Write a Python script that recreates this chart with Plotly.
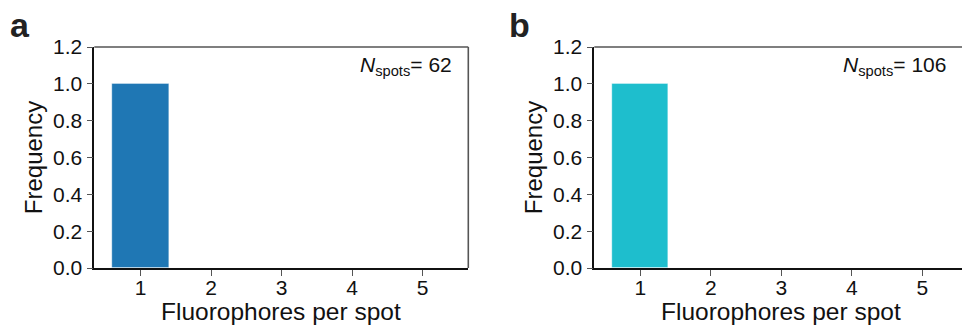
import plotly.graph_objects as go

# ---- data ----
categories = [1, 2, 3, 4, 5]
freq_a = [1.0, 0.0, 0.0, 0.0, 0.0]
freq_b = [1.0, 0.0, 0.0, 0.0, 0.0]
n_spots_a = 62
n_spots_b = 106
y_ticks = [0.0, 0.2, 0.4, 0.6, 0.8, 1.0, 1.2]
x_title = "Fluorophores per spot"
y_title = "Frequency"
panel_labels = ["a", "b"]

W, H = 962, 325
FONT = "Liberation Sans, Arial, sans-serif"

fig = go.Figure()
fig.add_trace(go.Bar(x=categories, y=freq_a, width=0.8, marker=dict(color="#1f77b4", line=dict(color="rgba(255,255,255,0.35)", width=1)),
                     xaxis="x", yaxis="y", showlegend=False))
fig.add_trace(go.Bar(x=categories, y=freq_b, width=0.8, marker=dict(color="#1ebecd", line=dict(color="rgba(255,255,255,0.35)", width=1)),
                     xaxis="x2", yaxis="y2", showlegend=False))

ydom = [57 / H, 278 / H]
xa_dom = [94.3 / W, 468.3 / W]
xb_dom = [594.3 / W, 1.0]

common_x = dict(
    tickmode="array", tickvals=categories, ticktext=[str(c) for c in categories],
    ticks="outside", ticklen=6, tickwidth=1.3, tickcolor="#555", automargin=False,
    ticklabelstandoff=-6,
    showline=True, linecolor="#111", linewidth=1.6, showgrid=False, zeroline=False,
    tickfont=dict(family=FONT, size=21, color="#111"),
)
common_y = dict(
    range=[0, 1.2], tickmode="array", tickvals=y_ticks, ticktext=[f"{v:.1f}" for v in y_ticks],
    ticks="outside", ticklen=6, tickwidth=1.3, tickcolor="#555", automargin=False,
    showline=True, linecolor="#111", linewidth=1.6, showgrid=False, zeroline=False,
    tickfont=dict(family=FONT, size=21, color="#111"),
    title=dict(text=y_title, font=dict(family=FONT, size=24, color="#111"), standoff=4),
)

fig.update_layout(
    template="none",
    width=W, height=H, margin=dict(l=0, r=0, t=0, b=0, autoexpand=False),
    paper_bgcolor="white", plot_bgcolor="white", bargap=0,
    xaxis=dict(domain=xa_dom, range=[0.342, 5.647], anchor="y", **common_x),
    yaxis=dict(domain=ydom, anchor="x", **common_y),
    xaxis2=dict(domain=xb_dom, range=[0.3475, 5.563], anchor="y2", **common_x),
    yaxis2=dict(domain=ydom, anchor="x2", **common_y),
)

# top/right spines (gray)
spine = dict(color="#555", width=1.6)
fig.add_shape(type="line", xref="x domain", yref="y domain", x0=0, x1=1, y0=1, y1=1, line=spine)
fig.add_shape(type="line", xref="x domain", yref="y domain", x0=1, x1=1, y0=0, y1=1, line=spine)
fig.add_shape(type="line", xref="x2 domain", yref="y2 domain", x0=0, x1=1, y0=1, y1=1, line=spine)

# x-axis titles
for cx in [(94.3 + 468.3) / 2, (594.3 + 968.3) / 2]:
    fig.add_annotation(xref="paper", yref="paper", x=cx / W, y=1 - 311.5 / H, xanchor="center", yanchor="middle",
                       showarrow=False, text=x_title, font=dict(family=FONT, size=24.5, color="#111"))

# N_spots annotations
for xr, yr, n in [("x domain", "y domain", n_spots_a), ("x2 domain", "y2 domain", n_spots_b)]:
    fig.add_annotation(xref=xr, yref=yr, x=1, y=1, xanchor="right", yanchor="top",
                       xshift=-14, yshift=-4, showarrow=False,
                       text=f"<i>N</i><sub>spots</sub>= {n}",
                       font=dict(family=FONT, size=21, color="#111"))

# panel letters
for xpx, lab in [(8, panel_labels[0]), (507, panel_labels[1])]:
    fig.add_annotation(xref="paper", yref="paper", x=xpx / W, y=1 - 4 / H, xanchor="left", yanchor="top",
                       showarrow=False, text=f"<b>{lab}</b>",
                       font=dict(family=FONT, size=34, color="#222"))

fig.write_html("out.html", config={"displayModeBar": False},
               post_script="document.body.style.margin='0';document.body.style.overflow='hidden';")
